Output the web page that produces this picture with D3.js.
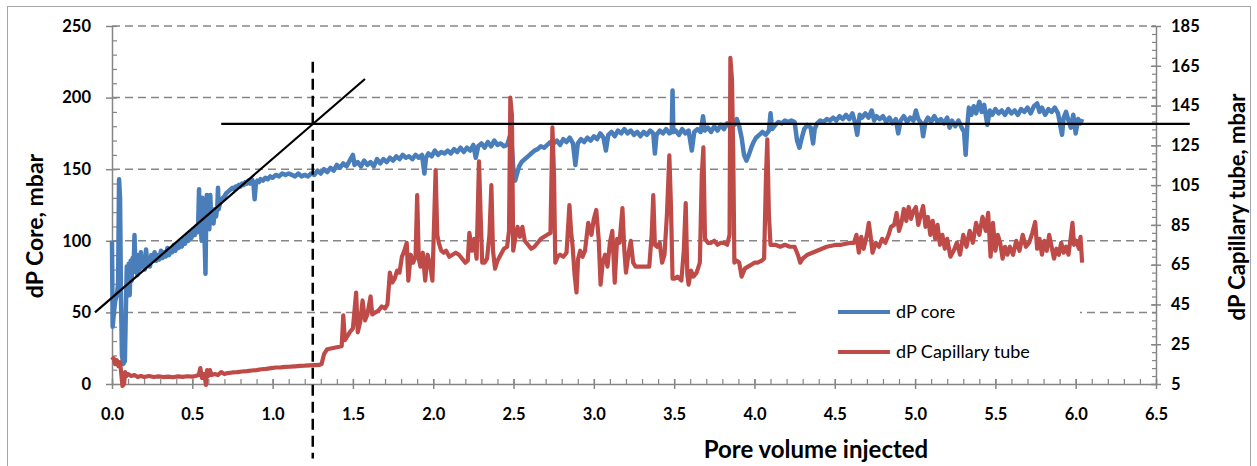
<!DOCTYPE html>
<html>
<head>
<meta charset="utf-8">
<script src="https://cdn.jsdelivr.net/npm/d3@7"></script>
<style>
  body { margin: 0; background: #fff; }
  svg { display: block; }
  text { font-family: Lato, "Liberation Sans", sans-serif; fill: #000; }
</style>
</head>
<body>
<svg id="chart" width="1257" height="466"></svg>
<script>
// ---- data ---------------------------------------------------------------
const xTicks = [0, 0.5, 1, 1.5, 2, 2.5, 3, 3.5, 4, 4.5, 5, 5.5, 6, 6.5];
const leftTicks = [0, 50, 100, 150, 200, 250];
const rightTicks = [5, 25, 45, 65, 85, 105, 125, 145, 165, 185];
const seriesNames = ["dP core", "dP Capillary tube"];

// dP across the core (left axis, mbar) vs pore volume injected
const corePoints = [
  [0.000,100],[0.004,40],[0.012,50],[0.020,58],[0.030,62],[0.038,70],[0.044,143],[0.050,130],
  [0.056,60],[0.062,20],[0.070,14],[0.080,16],[0.086,50],[0.092,82],[0.098,66],[0.104,84],
  [0.110,62],[0.116,86],[0.122,72],[0.128,88],[0.134,78],[0.140,104],[0.146,80],[0.152,88],
  [0.158,76],[0.165,90],[0.172,80],[0.180,92],[0.188,82],[0.196,86],[0.204,80],[0.212,94],
  [0.220,84],[0.228,88],[0.236,82],[0.245,90],[0.255,86],[0.265,92],[0.275,86],[0.285,90],
  [0.295,87],[0.305,93],[0.315,88],[0.325,92],[0.335,89],[0.345,95],[0.355,90],[0.365,94],
  [0.375,92],[0.385,97],[0.395,93],[0.405,98],[0.415,95],[0.425,99],[0.435,96],[0.445,101],
  [0.455,98],[0.465,103],[0.475,100],[0.485,106],[0.495,102],[0.505,108],[0.515,104],[0.525,110],
  [0.535,106],[0.542,136],[0.546,108],[0.552,112],[0.558,100],[0.562,130],[0.566,106],[0.572,114],
  [0.578,95],[0.582,77],[0.586,112],[0.590,132],[0.595,110],[0.600,118],[0.606,108],[0.612,132],
  [0.618,114],[0.625,120],[0.632,112],[0.640,122],[0.648,117],[0.656,124],[0.660,137],[0.664,122],
  [0.672,126],[0.680,128],[0.690,130],[0.700,131],[0.710,133],[0.720,134],[0.730,135],[0.740,136],
  [0.750,137],[0.760,136],[0.770,138],[0.780,138],[0.790,139],[0.800,138],[0.810,140],[0.820,139],
  [0.830,141],[0.840,140],[0.850,142],[0.860,140],[0.870,143],[0.880,141],[0.888,129],[0.896,140],
  [0.905,142],[0.915,141],[0.925,143],[0.940,142],[0.955,144],[0.970,143],[0.985,145],[1.000,144],
  [1.020,146],[1.040,145],[1.060,147],[1.080,146],[1.100,147],[1.120,146],[1.140,145],[1.160,147],
  [1.180,145],[1.200,146],[1.220,145],[1.240,147],[1.260,146],[1.280,149],[1.300,147],[1.320,150],
  [1.340,148],[1.360,151],[1.380,149],[1.400,153],[1.420,151],[1.440,154],[1.460,152],[1.480,156],
  [1.500,160],[1.510,153],[1.530,155],[1.550,152],[1.570,156],[1.590,153],[1.610,155],[1.630,152],
  [1.650,157],[1.670,154],[1.690,157],[1.710,155],[1.730,158],[1.750,156],[1.770,159],[1.790,157],
  [1.810,160],[1.830,158],[1.850,159],[1.870,157],[1.890,160],[1.910,158],[1.930,160],[1.945,147],
  [1.955,158],[1.970,161],[1.990,159],[2.010,163],[2.030,160],[2.050,162],[2.070,161],[2.090,163],
  [2.110,161],[2.130,164],[2.150,162],[2.170,165],[2.190,162],[2.210,165],[2.230,163],[2.250,167],
  [2.265,158],[2.280,166],[2.300,168],[2.320,165],[2.340,169],[2.360,166],[2.380,170],[2.400,167],
  [2.420,168],[2.440,166],[2.460,167],[2.480,174],[2.490,165],[2.500,148],[2.510,142],[2.520,146],
  [2.535,152],[2.550,155],[2.570,157],[2.590,159],[2.610,161],[2.630,163],[2.650,164],[2.670,166],
  [2.690,165],[2.710,167],[2.730,169],[2.750,168],[2.770,170],[2.790,167],[2.810,171],[2.830,169],
  [2.850,172],[2.870,168],[2.885,153],[2.900,168],[2.920,171],[2.940,169],[2.960,172],[2.980,170],
  [3.000,173],[3.020,171],[3.040,175],[3.060,172],[3.075,163],[3.090,174],[3.110,176],[3.130,173],
  [3.150,177],[3.170,175],[3.190,178],[3.210,175],[3.230,177],[3.250,174],[3.270,176],[3.290,173],
  [3.310,176],[3.330,174],[3.350,177],[3.370,175],[3.380,161],[3.390,174],[3.410,177],[3.430,175],
  [3.450,178],[3.470,175],[3.485,176],[3.490,205],[3.495,176],[3.510,177],[3.530,174],[3.550,178],
  [3.570,175],[3.590,177],[3.610,163],[3.625,176],[3.645,178],[3.665,176],[3.680,187],[3.690,177],
  [3.710,179],[3.730,176],[3.750,180],[3.770,177],[3.790,181],[3.810,178],[3.830,182],[3.845,180],
  [3.860,184],[3.875,181],[3.890,185],[3.905,180],[3.920,172],[3.935,160],[3.950,156],[3.965,160],
  [3.980,165],[3.995,169],[4.010,172],[4.030,174],[4.050,176],[4.070,174],[4.090,177],[4.100,189],
  [4.110,178],[4.130,181],[4.150,183],[4.170,182],[4.190,184],[4.210,183],[4.230,184],[4.250,183],
  [4.265,170],[4.280,165],[4.295,172],[4.310,178],[4.330,181],[4.350,179],[4.365,168],[4.375,178],
  [4.390,182],[4.410,184],[4.430,183],[4.450,185],[4.470,184],[4.490,186],[4.510,184],[4.530,187],
  [4.550,185],[4.570,188],[4.590,185],[4.610,189],[4.625,183],[4.640,174],[4.655,188],[4.670,186],
  [4.690,189],[4.710,186],[4.730,191],[4.745,184],[4.760,187],[4.780,185],[4.800,187],[4.820,183],
  [4.840,186],[4.860,182],[4.880,185],[4.895,175],[4.910,184],[4.930,187],[4.950,183],[4.970,186],
  [4.990,184],[5.005,191],[5.020,185],[5.040,182],[5.050,173],[5.065,183],[5.080,186],[5.100,183],
  [5.120,187],[5.140,183],[5.160,185],[5.180,182],[5.200,186],[5.215,179],[5.230,184],[5.250,180],
  [5.270,184],[5.290,179],[5.305,176],[5.315,160],[5.325,180],[5.335,193],[5.350,188],[5.365,194],
  [5.380,189],[5.400,197],[5.415,190],[5.430,195],[5.450,181],[5.465,191],[5.480,188],[5.500,192],
  [5.520,189],[5.540,191],[5.560,188],[5.580,192],[5.600,189],[5.620,191],[5.640,188],[5.660,192],
  [5.680,190],[5.700,193],[5.720,189],[5.740,194],[5.760,196],[5.775,190],[5.790,193],[5.810,188],
  [5.830,192],[5.850,190],[5.870,193],[5.890,189],[5.905,180],[5.915,174],[5.925,186],[5.940,190],
  [5.955,184],[5.970,179],[5.985,188],[6.000,175],[6.015,185],[6.030,182],[6.040,185]
];

// dP across the capillary tube (right axis, mbar) vs pore volume injected
const tubePoints = [
  [0.000,17],[0.010,18],[0.020,15],[0.030,17],[0.040,14],[0.050,16],[0.058,10],[0.065,4],
  [0.075,5],[0.082,11],[0.090,9],[0.100,10],[0.120,9],[0.140,9.5],[0.160,8.5],[0.180,9],
  [0.200,8.5],[0.230,9],[0.260,8.5],[0.290,8.8],[0.320,8.5],[0.350,8.7],[0.380,8.4],[0.410,8.8],
  [0.440,8.6],[0.470,8.9],[0.500,8.7],[0.520,9],[0.540,9.5],[0.550,13],[0.560,8],[0.575,10],
  [0.585,4.5],[0.592,12],[0.600,9],[0.610,12],[0.620,9.5],[0.640,10],[0.660,9.5],[0.680,11],
  [0.700,10],[0.720,10.5],[0.750,10.8],[0.780,11],[0.810,11.3],[0.840,11.5],[0.870,11.8],[0.900,12],
  [0.930,12.4],[0.960,12.6],[0.990,13],[1.020,13.3],[1.050,13.4],[1.080,13.6],[1.110,13.7],[1.140,13.9],
  [1.170,14.1],[1.200,14.2],[1.230,14.4],[1.260,14.5],[1.290,14.6],[1.305,15],[1.320,20],[1.340,22.5],
  [1.370,23],[1.400,23.5],[1.430,24],[1.440,39.5],[1.450,27],[1.480,31],[1.500,33],[1.520,51],
  [1.530,31],[1.545,36],[1.560,47],[1.575,37],[1.590,40],[1.610,49],[1.620,40],[1.640,41],
  [1.660,42],[1.680,44],[1.700,43],[1.715,45],[1.730,61],[1.745,56],[1.760,58],[1.775,62],
  [1.790,61],[1.805,69],[1.820,72],[1.835,76],[1.845,57],[1.860,70],[1.875,66],[1.890,69],
  [1.900,100],[1.910,68],[1.920,64],[1.935,71],[1.950,57],[1.965,70],[1.980,65],[1.995,57],
  [2.005,85],[2.015,112.6],[2.025,80],[2.035,76],[2.050,72],[2.065,71],[2.080,72],[2.100,69],
  [2.120,70],[2.140,71],[2.160,70],[2.180,68],[2.200,66],[2.215,67],[2.225,81],[2.240,72],
  [2.255,78],[2.270,68],[2.285,117],[2.295,90],[2.305,66],[2.320,66],[2.335,68],[2.350,80],
  [2.362,105],[2.372,72],[2.385,63],[2.400,67],[2.420,70],[2.440,73],[2.460,74],[2.472,82],
  [2.480,149],[2.490,140],[2.498,72],[2.510,78],[2.525,84],[2.540,79],[2.555,84],[2.570,77],
  [2.590,75],[2.610,73],[2.630,74],[2.650,76],[2.670,78],[2.690,79],[2.710,80],[2.730,81],
  [2.742,134],[2.752,110],[2.760,66],[2.775,69],[2.790,70],[2.810,69],[2.830,71],[2.848,95],
  [2.858,82],[2.868,74],[2.880,60],[2.892,51],[2.902,68],[2.915,72],[2.930,69],[2.945,72],
  [2.965,86],[2.985,80],[3.000,88],[3.015,92.5],[3.030,78],[3.042,55],[3.055,66],[3.070,70],
  [3.085,64],[3.100,76],[3.115,82],[3.130,56],[3.145,78],[3.160,76],[3.178,93.5],[3.190,72],
  [3.200,61],[3.215,70],[3.230,77],[3.245,66],[3.260,64],[3.290,64],[3.320,64],[3.345,64],
  [3.360,80],[3.370,100],[3.380,75],[3.395,74],[3.410,76],[3.425,66],[3.440,70],[3.455,90],
  [3.470,120],[3.480,95],[3.490,58],[3.505,58],[3.520,59],[3.545,57],[3.560,72],[3.572,96],
  [3.582,60],[3.590,55],[3.605,62],[3.620,59],[3.640,61],[3.660,66],[3.672,110],[3.682,124],
  [3.692,78],[3.710,76],[3.730,76],[3.750,77],[3.770,75],[3.790,76],[3.810,76],[3.830,75],
  [3.845,80],[3.850,169],[3.860,158],[3.868,120],[3.875,66],[3.890,67],[3.905,66],[3.920,59],
  [3.940,63],[3.960,64],[3.980,65],[4.000,66],[4.020,66],[4.045,67],[4.060,68],[4.072,110],
  [4.080,128],[4.090,90],[4.100,75],[4.130,75],[4.160,74],[4.190,75],[4.220,74],[4.250,74],
  [4.270,70],[4.285,66],[4.300,68],[4.330,70],[4.360,71],[4.390,72],[4.420,73],[4.450,74],
  [4.480,74.5],[4.510,75],[4.540,75],[4.570,75.5],[4.600,76],[4.620,76],[4.635,80],[4.650,71],
  [4.665,79],[4.680,73],[4.700,80],[4.712,86],[4.722,80],[4.735,71],[4.755,76],[4.775,74],
  [4.795,78],[4.815,76],[4.835,80],[4.850,84],[4.870,85],[4.885,91],[4.900,82],[4.915,86],
  [4.930,93],[4.945,87],[4.960,94],[4.975,88],[4.990,92],[5.005,94],[5.020,85],[5.035,90],
  [5.050,94.5],[5.065,84],[5.080,89],[5.095,80],[5.110,87],[5.125,78],[5.140,85],[5.155,75],
  [5.170,80],[5.185,73],[5.200,78],[5.220,69],[5.240,72],[5.260,76],[5.280,70],[5.300,80],
  [5.320,74],[5.340,82],[5.360,76],[5.380,86],[5.400,80],[5.420,89],[5.440,82],[5.455,91],
  [5.470,69],[5.485,86],[5.500,72],[5.515,80],[5.530,76],[5.545,68],[5.560,74],[5.575,70],
  [5.590,74],[5.610,70],[5.630,77],[5.650,72],[5.670,80],[5.690,74],[5.710,76],[5.730,81],
  [5.748,86.5],[5.760,73],[5.775,78],[5.790,70],[5.805,77],[5.820,72],[5.835,80],[5.850,74],
  [5.865,68],[5.880,73],[5.895,70],[5.910,76],[5.925,71],[5.940,74],[5.955,70],[5.970,79],
  [5.980,86],[5.990,75],[6.005,77],[6.020,73],[6.030,79],[6.040,66]
];

// Guide lines (pore volume, left-axis mbar)
const tangentLine = [[-0.106, 50], [1.575, 213]];
const plateauLine = [[0.68, 181.6], [6.71, 181.6]];
const breakthroughLine = [[1.25, 225], [1.25, -52]];

// ---- layout -------------------------------------------------------------
const svg = d3.select("#chart");
const plotLeft = 112, plotRight = 1156, plotTop = 26, plotBottom = 384;
const blue = "#4A7EBB", red = "#BE4B48", axisGrey = "#868686";

const x = d3.scaleLinear().domain([0, 6.5]).range([plotLeft, plotRight]);
const yL = d3.scaleLinear().domain([0, 250]).range([plotBottom, plotTop]);
const yR = d3.scaleLinear().domain([5, 185]).range([plotBottom, plotTop]);

// outer frame
svg.append("rect")
  .attr("x", 7.5).attr("y", 6.5).attr("width", 1243).attr("height", 480)
  .attr("fill", "#fff").attr("stroke", "#a6a6a6").attr("stroke-width", 1);

// horizontal gridlines
svg.append("g").selectAll("line")
  .data(leftTicks.filter(d => d > 0))
  .join("line")
  .attr("x1", plotLeft).attr("x2", plotRight)
  .attr("y1", d => yL(d)).attr("y2", d => yL(d))
  .attr("stroke", axisGrey).attr("stroke-width", 1.5)
  .attr("stroke-dasharray", "8,5");

// ---- axes ---------------------------------------------------------------
function styleAxis(g) {
  g.selectAll("path.domain").attr("stroke", axisGrey).attr("stroke-width", 1.5);
  g.selectAll(".tick line").attr("stroke", axisGrey).attr("stroke-width", 1.5);
  g.selectAll("text").attr("font-family", "Lato, 'Liberation Sans', sans-serif")
    .attr("font-weight", 700).attr("font-size", 16.5).attr("fill", "#000");
}

// left axis: minor ticks inside, major ticks outside
const gLminor = svg.append("g").attr("transform", `translate(${plotLeft},0)`)
  .call(d3.axisRight(yL).tickValues(d3.range(0, 251, 10)).tickSize(5).tickFormat(""));
gLminor.select("path.domain").remove();
styleAxis(gLminor);
gLminor.selectAll(".tick line").attr("stroke-width", 1.2);

const gL = svg.append("g").attr("transform", `translate(${plotLeft},0)`)
  .call(d3.axisLeft(yL).tickValues(leftTicks).tickSize(6).tickPadding(15).tickSizeOuter(0));
styleAxis(gL);

// bottom axis: minor ticks inside, major ticks crossing
const gBminor = svg.append("g").attr("transform", `translate(0,${plotBottom})`)
  .call(d3.axisTop(x).tickValues(d3.range(0, 66).map(i => i / 10)).tickSize(5).tickFormat(""));
gBminor.select("path.domain").remove();
styleAxis(gBminor);
gBminor.selectAll(".tick line").attr("stroke-width", 1.2);

const gB = svg.append("g").attr("transform", `translate(0,${plotBottom})`)
  .call(d3.axisBottom(x).tickValues(xTicks).tickFormat(d3.format(".1f")).tickSizeOuter(0));
styleAxis(gB);
gB.selectAll(".tick line").attr("y1", -5).attr("y2", 5);
gB.selectAll(".tick text").attr("y", 30).attr("dy", "0.35em");

// right axis: minor ticks inside, major ticks crossing
const gRminor = svg.append("g").attr("transform", `translate(${plotRight},0)`)
  .call(d3.axisLeft(yR).tickValues(d3.range(5, 186, 4)).tickSize(4).tickFormat(""));
gRminor.select("path.domain").remove();
styleAxis(gRminor);
gRminor.selectAll(".tick line").attr("stroke-width", 1.2);

const gR = svg.append("g").attr("transform", `translate(${plotRight},0)`)
  .call(d3.axisRight(yR).tickValues(rightTicks).tickSize(5).tickPadding(10).tickSizeOuter(0));
styleAxis(gR);
gR.selectAll(".tick line").attr("x1", -5).attr("x2", 5);

// ---- series -------------------------------------------------------------
const coreLine = d3.line().x(d => x(d[0])).y(d => yL(d[1]));
const tubeLine = d3.line().x(d => x(d[0])).y(d => yR(d[1]));

svg.append("path").datum(corePoints)
  .attr("d", coreLine).attr("fill", "none")
  .attr("stroke", blue).attr("stroke-width", 4.5).attr("stroke-linejoin", "round");

svg.append("path").datum(tubePoints)
  .attr("d", tubeLine).attr("fill", "none")
  .attr("stroke", red).attr("stroke-width", 4.2).attr("stroke-linejoin", "round");

// ---- guide lines --------------------------------------------------------
const guide = d3.line().x(d => x(d[0])).y(d => yL(d[1]));
svg.append("path").datum(tangentLine).attr("d", guide)
  .attr("stroke", "#000").attr("stroke-width", 2.2).attr("fill", "none");
svg.append("path").datum(plateauLine).attr("d", guide)
  .attr("stroke", "#000").attr("stroke-width", 2.2).attr("fill", "none");
svg.append("path").datum(breakthroughLine).attr("d", guide)
  .attr("stroke", "#000").attr("stroke-width", 2.5).attr("fill", "none")
  .attr("stroke-dasharray", "11,6");

// ---- legend -------------------------------------------------------------
const legend = svg.append("g");
legend.append("rect").attr("x", 798).attr("y", 292).attr("width", 282).attr("height", 80)
  .attr("fill", "#fff");
const legendRows = legend.selectAll("g.row")
  .data(seriesNames).join("g").attr("class", "row")
  .attr("transform", (d, i) => `translate(838,${312 + i * 40})`);
legendRows.append("line").attr("x1", 0).attr("x2", 52)
  .attr("stroke", (d, i) => i === 0 ? blue : red).attr("stroke-width", 4);
legendRows.append("text").attr("x", 58).attr("dy", "0.35em")
  .attr("font-size", 18).text(d => d);

// ---- titles -------------------------------------------------------------
svg.append("text")
  .attr("transform", "translate(35,226) rotate(-90)")
  .attr("text-anchor", "middle").attr("dy", "0.35em")
  .attr("font-size", 23).attr("font-weight", 700)
  .text("dP Core, mbar");

svg.append("text")
  .attr("transform", "translate(1237,207) rotate(-90)")
  .attr("text-anchor", "middle").attr("dy", "0.35em")
  .attr("font-size", 22).attr("font-weight", 700)
  .text("dP Capillary tube, mbar");

svg.append("text")
  .attr("x", 816).attr("y", 450).attr("dy", "0.35em")
  .attr("text-anchor", "middle")
  .attr("font-size", 24).attr("font-weight", 700)
  .text("Pore volume injected");
</script>
</body>
</html>
